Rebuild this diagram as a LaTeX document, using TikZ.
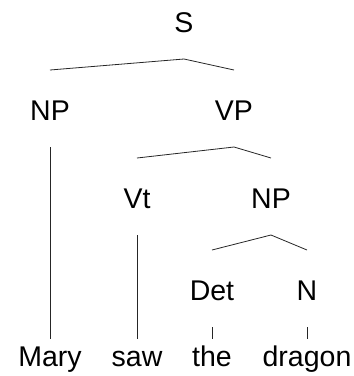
\documentclass[tikz,border=0pt]{standalone}
\usepackage{fontspec}
\setmainfont{Liberation Sans}
\begin{document}
\begin{tikzpicture}[x=1pt,y=-1pt,
  every node/.style={inner sep=0pt, outer sep=0pt, anchor=base,
    font=\fontsize{28.5}{34}\selectfont},
  cat/.style={text height=50pt, text depth=27pt},
  leaf/.style={text height=27pt, text depth=8pt},
  branch/.style={draw=black!85, line width=0.8pt}]
\useasboundingbox (0,0) rectangle (354,376);

% phrase-structure nodes
\node[cat] (S)   at (184,32)  {S};
\node[cat] (NP1) at (50,120)  {NP};
\node[cat] (VP)  at (234,120) {VP};
\node[cat] (Vt)  at (137,208) {Vt};
\node[cat] (NP2) at (271,208) {NP};
\node[cat] (Det) at (212,300) {Det};
\node[cat] (N)   at (307,300) {N};

% words
\node[leaf] (w1) at (50,366)  {Mary};
\node[leaf] (w2) at (137,366) {saw};
\node[leaf] (w3) at (212,366) {the};
\node[leaf] (w4) at (307,366) {dragon};

% branches
\draw[branch] (S.south) -- (NP1.north);
\draw[branch] (S.south) -- (VP.north);
\draw[branch] (NP1.south) -- (w1.north);
\draw[branch] (VP.south) -- (Vt.north);
\draw[branch] (VP.south) -- (NP2.north);
\draw[branch] (Vt.south) -- (w2.north);
\draw[branch] (NP2.south) -- (Det.north);
\draw[branch] (NP2.south) -- (N.north);
\draw[branch] (Det.south) -- (w3.north);
\draw[branch] (N.south) -- (w4.north);
\end{tikzpicture}
\end{document}
